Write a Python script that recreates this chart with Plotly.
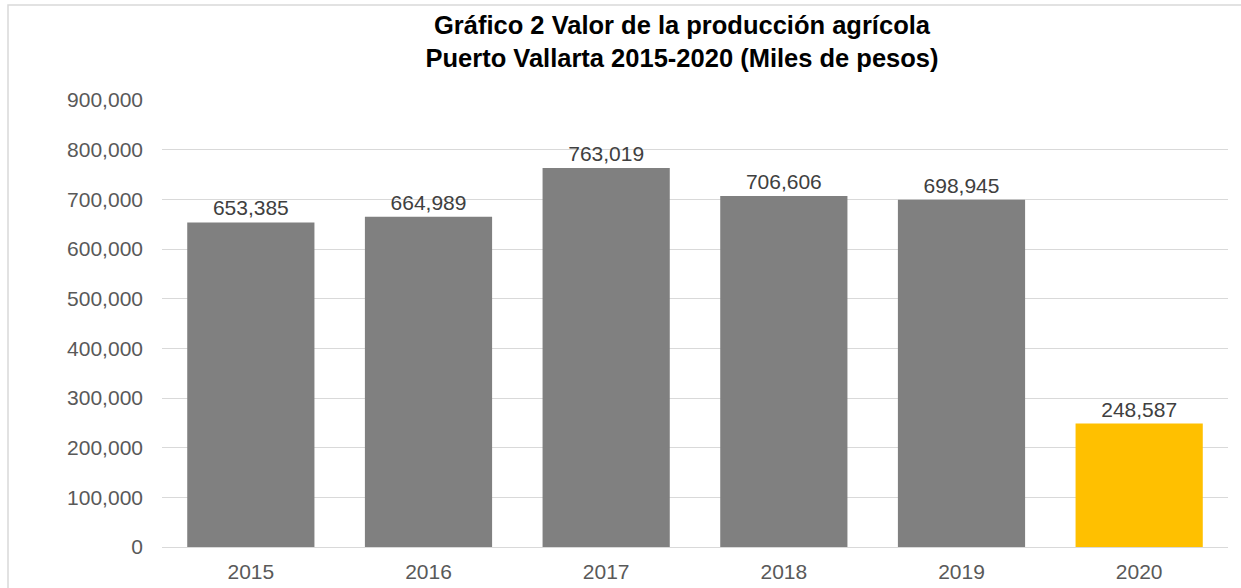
import plotly.graph_objects as go

years = ["2015", "2016", "2017", "2018", "2019", "2020"]
values = [653385, 664989, 763019, 706606, 698945, 248587]
bar_colors = ["#808080", "#808080", "#808080", "#808080", "#808080", "#FFC000"]
y_ticks = [0, 100000, 200000, 300000, 400000, 500000, 600000, 700000, 800000, 900000]
y_tick_labels = [f"{v:,}" for v in y_ticks]

W, H = 1241, 588
plot_l, plot_r, plot_t, plot_b = 162, 1228, 100, 547   # screen px
ml, mt = plot_l, plot_t
mr, mb = W - plot_r, H - plot_b
pw, ph = plot_r - plot_l, plot_b - plot_t

def sx(px):
    return (px - plot_l) / pw

def sy(py):
    return (plot_b - py) / ph

FONT = "Liberation Sans, Arial, sans-serif"

fig = go.Figure(go.Bar(
    x=years, y=values,
    marker=dict(color=bar_colors, line=dict(width=0)),
    text=[f"{v:,}" for v in values],
    textposition="outside",
    textfont=dict(family=FONT, size=21, color="#404040"),
    cliponaxis=False,
))

fig.update_layout(
    width=W, height=H,
    margin=dict(l=ml, r=mr, t=mt, b=mb, pad=0, autoexpand=False),
    paper_bgcolor="white", plot_bgcolor="white",
    bargap=0.284,
    showlegend=False,
    font=dict(family=FONT, size=21, color="#595959"),
    title=dict(
        text="<b>Gráfico 2 Valor de la producción agrícola<br>Puerto Vallarta 2015-2020 (Miles de pesos)</b>",
        x=sx(682), xref="paper", xanchor="center",
        y=1 - 34 / H, yref="container", yanchor="middle",
        font=dict(family=FONT, size=25.5, color="#000000"),
    ),
    xaxis=dict(showgrid=False, showline=False, ticks="", ticklabelstandoff=10, automargin=False,
               tickfont=dict(size=21, color="#595959")),
    yaxis=dict(
        range=[0, 900000], tickvals=y_ticks, ticktext=y_tick_labels, automargin=False,
        showgrid=True, gridcolor="#d9d9d9", gridwidth=1.3,
        zeroline=True, zerolinecolor="#d9d9d9", zerolinewidth=1.3,
        showline=False, ticks="", ticklabelstandoff=18,
        tickfont=dict(size=21, color="#595959"),
    ),
    shapes=[dict(
        type="rect", xref="paper", yref="paper",
        x0=sx(8), x1=sx(W + 20),
        y0=sy(H + 20), y1=sy(5),
        line=dict(color="#d9d9d9", width=1.5), fillcolor="rgba(0,0,0,0)", layer="below",
    )],
)

fig.write_html("out.html", config={"displayModeBar": False},
               post_script="document.body.style.margin='0';")
